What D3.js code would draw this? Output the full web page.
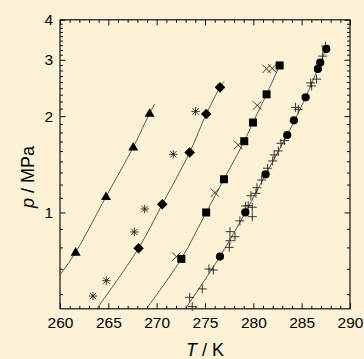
<!DOCTYPE html>
<html>
<head>
<meta charset="utf-8">
<script src="https://cdn.jsdelivr.net/npm/d3@7/dist/d3.min.js"></script>
<style>
  html, body { margin: 0; padding: 0; background: #fdf2d6; }
  svg { display: block; }
  text { font-family: "Liberation Sans", Arial, sans-serif; fill: #000; }
</style>
</head>
<body>
<svg id="chart" width="364" height="359"></svg>
<script>
// Vapour pressure of hydrate-forming systems: measured points and fitted curves.

// Temperature axis
const xMajorTicks = [260, 265, 270, 275, 280, 285, 290];
const xMinorTicks = d3.range(261, 290, 1).filter(t => t % 5 !== 0);
// Pressure axis (log scale)
const yMajorTicks = [1, 2, 3, 4];
const yMinorPerStep = 8;

// Filled triangles
const triT = [261.62, 264.76, 267.58, 269.27];
const triP = [0.751, 1.12, 1.60, 2.04];
// Asterisks
const starT = [263.41, 264.79, 267.69, 268.76, 271.72, 274.03];
const starP = [0.548, 0.612, 0.869, 1.025, 1.52, 2.07];
// Filled diamonds
const diaT = [268.13, 270.58, 273.41, 275.13, 276.55];
const diaP = [0.773, 1.061, 1.54, 2.03, 2.46];
// Crosses (x)
const crossT = [272.03, 276.03, 278.44, 280.40, 281.37, 281.95];
const crossP = [0.728, 1.153, 1.625, 2.16, 2.81, 2.82];
// Filled squares
const sqT = [272.55, 275.12, 276.96, 279.06, 279.96, 281.37, 282.72];
const sqP = [0.716, 1.0, 1.27, 1.67, 1.91, 2.34, 2.88];
// Filled circles
const circT = [276.55, 279.17, 281.27, 283.51, 284.2, 285.41, 286.68, 286.92, 287.54];
const circP = [0.728, 1.0, 1.316, 1.746, 1.94, 2.29, 2.81, 2.94, 3.24];
// Plus signs
const plusT = [273.68, 273.41, 274.72, 275.41, 275.86, 277.51, 277.58, 277.58, 278.1, 278.61,
               279.2, 279.47, 279.89, 279.89, 279.75, 280.27, 280.37, 280.86, 281.48, 282.0,
               282.16, 282.58, 282.85, 283.2, 284.37, 284.65, 285.93, 286.03, 286.54, 287.17, 287.47];
const plusP = [0.508, 0.543, 0.577, 0.666, 0.661, 0.778, 0.816, 0.871, 0.84, 0.941,
               1.048, 1.05, 1.038, 0.97, 1.128, 1.148, 1.195, 1.263, 1.375, 1.449,
               1.513, 1.557, 1.645, 1.677, 2.13, 2.10, 2.54, 2.485, 2.61, 3.08, 3.31];

// Fitted curves
const curveTriT = [260.0, 261.62, 264.76, 267.58, 269.27, 269.8];
const curveTriP = [0.638, 0.751, 1.12, 1.60, 2.04, 2.18];
const curveDiaT = [263.8, 268.13, 270.58, 273.41, 275.13, 276.55, 277.0];
const curveDiaP = [0.5, 0.773, 1.061, 1.54, 2.03, 2.46, 2.57];
const curveSqT = [268.93, 272.55, 275.12, 276.96, 279.06, 279.96, 281.37, 282.72];
const curveSqP = [0.5, 0.716, 1.0, 1.27, 1.67, 1.91, 2.34, 2.88];
const curveCircT = [272.96, 276.55, 279.17, 281.27, 283.51, 285.41, 286.8, 287.75];
const curveCircP = [0.5, 0.728, 1.0, 1.316, 1.746, 2.29, 2.87, 3.36];

const svg = d3.select("#chart");
const pL = 60, pR = 350, pT = 19.8, pB = 308.8;

const x = d3.scaleLinear().domain([260, 290]).range([pL, pR]);
const y = d3.scaleLog().domain([0.5, 4]).range([pB, pT]);

const yMinorTicks = [];
for (let n = 0; n < 4; n++) {
  for (let k = 1; k <= yMinorPerStep; k++) {
    const v = n + k / (yMinorPerStep + 1);
    if (v > 0.5 && v < 4) yMinorTicks.push(v);
  }
}

const zip = (a, b) => a.map((v, i) => [v, b[i]]);

// Axes
function styleAxis(g) {
  g.select(".domain").remove();
  g.selectAll(".tick line").attr("stroke", "#111").attr("stroke-width", 1);
  g.selectAll(".tick text").style("font-size", "15.5px").attr("fill", "#000");
}
const majLen = 5.5, minLen = 3;

svg.append("g").attr("transform", `translate(0,${pB})`)
  .call(d3.axisBottom(x).tickValues(xMajorTicks).tickSizeInner(-majLen).tickSizeOuter(0).tickPadding(8.5).tickFormat(d3.format("d")))
  .call(styleAxis);
svg.append("g").attr("transform", `translate(0,${pB})`)
  .call(d3.axisBottom(x).tickValues(xMinorTicks).tickSizeInner(-minLen).tickSizeOuter(0).tickFormat(""))
  .call(styleAxis);
svg.append("g").attr("transform", `translate(0,${pT})`)
  .call(d3.axisTop(x).tickValues(xMajorTicks).tickSizeInner(-majLen).tickSizeOuter(0).tickFormat(""))
  .call(styleAxis);
svg.append("g").attr("transform", `translate(0,${pT})`)
  .call(d3.axisTop(x).tickValues(xMinorTicks).tickSizeInner(-minLen).tickSizeOuter(0).tickFormat(""))
  .call(styleAxis);

svg.append("g").attr("transform", `translate(${pL},0)`)
  .call(d3.axisLeft(y).tickValues(yMajorTicks).tickSizeInner(-majLen).tickSizeOuter(0).tickPadding(7).tickFormat(d3.format("d")))
  .call(styleAxis);
svg.append("g").attr("transform", `translate(${pL},0)`)
  .call(d3.axisLeft(y).tickValues(yMinorTicks).tickSizeInner(-minLen).tickSizeOuter(0).tickFormat(""))
  .call(styleAxis);
svg.append("g").attr("transform", `translate(${pR},0)`)
  .call(d3.axisRight(y).tickValues(yMajorTicks).tickSizeInner(-majLen).tickSizeOuter(0).tickFormat(""))
  .call(styleAxis);
svg.append("g").attr("transform", `translate(${pR},0)`)
  .call(d3.axisRight(y).tickValues(yMinorTicks).tickSizeInner(-minLen).tickSizeOuter(0).tickFormat(""))
  .call(styleAxis);

// Frame
svg.append("rect")
  .attr("x", pL).attr("y", pT)
  .attr("width", pR - pL).attr("height", pB - pT)
  .attr("fill", "none").attr("stroke", "#111").attr("stroke-width", 1.2);

// Fitted curves
const plot = svg.append("g");
plot.append("clipPath").attr("id", "clip").append("rect")
  .attr("x", pL).attr("y", pT).attr("width", pR - pL).attr("height", pB - pT);
const line = d3.line().x(d => x(d[0])).y(d => y(d[1])).curve(d3.curveCatmullRom.alpha(0.5));
const curves = [zip(curveTriT, curveTriP), zip(curveDiaT, curveDiaP), zip(curveSqT, curveSqP), zip(curveCircT, curveCircP)];
plot.append("g").attr("clip-path", "url(#clip)")
  .selectAll("path").data(curves).join("path")
  .attr("d", line).attr("fill", "none").attr("stroke", "#333").attr("stroke-width", 0.8);

// Markers
const marks = plot.append("g");
// plus signs
marks.selectAll(".plus").data(zip(plusT, plusP)).join("path")
  .attr("class", "plus")
  .attr("d", d => { const cx = x(d[0]), cy = y(d[1]), r = 4.5;
    return `M${cx - r},${cy}H${cx + r}M${cx},${cy - r}V${cy + r}`; })
  .attr("stroke", "#222").attr("stroke-width", 0.9).attr("fill", "none");
// crosses
marks.selectAll(".cross").data(zip(crossT, crossP)).join("path")
  .attr("class", "cross")
  .attr("d", d => { const cx = x(d[0]), cy = y(d[1]), r = 4.2;
    return `M${cx - r},${cy - r}L${cx + r},${cy + r}M${cx - r},${cy + r}L${cx + r},${cy - r}`; })
  .attr("stroke", "#222").attr("stroke-width", 0.9).attr("fill", "none");
// asterisks
marks.selectAll(".star").data(zip(starT, starP)).join("path")
  .attr("class", "star")
  .attr("d", d => { const cx = x(d[0]), cy = y(d[1]), r = 4.2, q = 3.2;
    return `M${cx - r},${cy}H${cx + r}M${cx},${cy - r}V${cy + r}` +
           `M${cx - q},${cy - q}L${cx + q},${cy + q}M${cx - q},${cy + q}L${cx + q},${cy - q}`; })
  .attr("stroke", "#222").attr("stroke-width", 0.9).attr("fill", "none");
// triangles
marks.selectAll(".tri").data(zip(triT, triP)).join("path")
  .attr("class", "tri")
  .attr("d", d => { const cx = x(d[0]), cy = y(d[1]);
    return `M${cx},${cy - 5.2}L${cx + 5},${cy + 3.4}L${cx - 5},${cy + 3.4}Z`; })
  .attr("fill", "#000");
// diamonds
marks.selectAll(".dia").data(zip(diaT, diaP)).join("path")
  .attr("class", "dia")
  .attr("d", d => { const cx = x(d[0]), cy = y(d[1]), r = 5.3;
    return `M${cx},${cy - r}L${cx + r},${cy}L${cx},${cy + r}L${cx - r},${cy}Z`; })
  .attr("fill", "#000");
// squares
marks.selectAll(".sq").data(zip(sqT, sqP)).join("rect")
  .attr("class", "sq")
  .attr("x", d => x(d[0]) - 4).attr("y", d => y(d[1]) - 4)
  .attr("width", 8).attr("height", 8).attr("fill", "#000");
// circles
marks.selectAll(".circ").data(zip(circT, circP)).join("circle")
  .attr("class", "circ")
  .attr("cx", d => x(d[0])).attr("cy", d => y(d[1])).attr("r", 4.1).attr("fill", "#000");

// Axis titles
svg.append("text")
  .attr("x", (pL + pR) / 2).attr("y", 355.5)
  .attr("text-anchor", "middle").style("font-size", "18px")
  .html('<tspan font-style="italic">T</tspan> / K');
svg.append("text")
  .attr("transform", "translate(34,177) rotate(-90)")
  .attr("text-anchor", "middle").style("font-size", "18px")
  .html('<tspan font-style="italic">p</tspan> / MPa');
</script>
</body>
</html>
